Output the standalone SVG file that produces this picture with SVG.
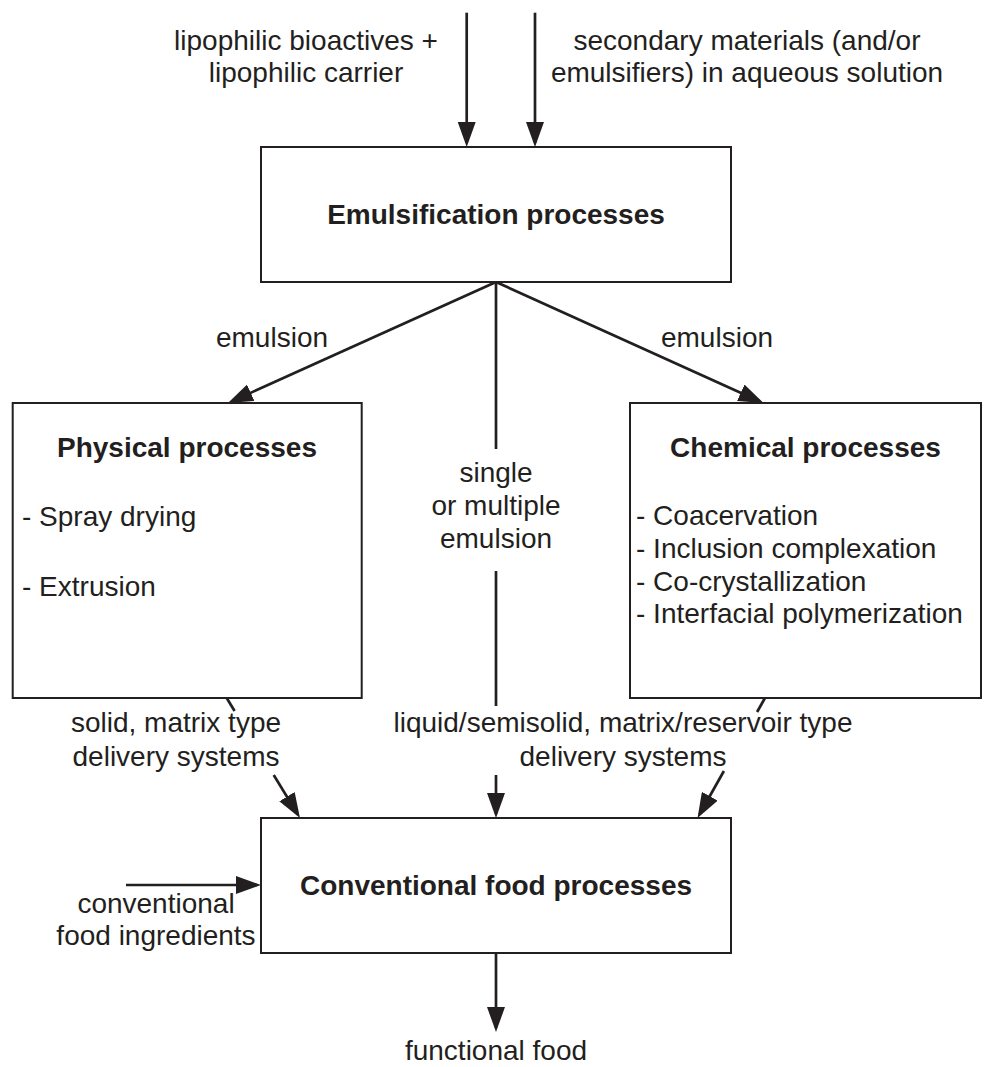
<svg xmlns="http://www.w3.org/2000/svg" width="984" height="1067" viewBox="0 0 984 1067">
<style>
text{font-family:"Liberation Sans",Arial,Helvetica,sans-serif;font-size:28px;fill:#231f20}
.t{font-weight:bold}
.c{text-anchor:middle}
.box{fill:#fff;stroke:#231f20;stroke-width:2}
.ln{fill:none;stroke:#231f20;stroke-width:2.7}
.ar{fill:none;stroke:#231f20;stroke-width:2.7;marker-end:url(#ah)}
</style>
<defs>
<marker id="ah" markerUnits="userSpaceOnUse" markerWidth="25" markerHeight="18" refX="21" refY="9" orient="auto" viewBox="0 0 25 18">
<path d="M0,0 L25,9 L0,18 z" fill="#231f20"/>
</marker>
</defs>
<rect width="984" height="1067" fill="#fff"/>
<g id="connectors">
<line class="ar" x1="466.7" y1="12.7" x2="466.7" y2="143"/>
<line class="ar" x1="535" y1="12.7" x2="535" y2="143"/>
<line class="ar" x1="496" y1="282" x2="231.6" y2="401.4"/>
<line class="ar" x1="496" y1="282" x2="759.9" y2="401.4"/>
<line class="ln" x1="496" y1="282" x2="496" y2="449"/>
<line class="ln" x1="496" y1="571" x2="496" y2="706"/>
<line class="ar" x1="496" y1="775" x2="496" y2="814"/>
<line class="ln" x1="226.7" y1="698" x2="234.6" y2="711"/>
<line class="ar" x1="273.7" y1="775" x2="297.9" y2="814.6"/>
<line class="ln" x1="765" y1="698" x2="757.1" y2="712"/>
<line class="ar" x1="723.9" y1="771" x2="699.5" y2="814.5"/>
<line class="ar" x1="126" y1="885" x2="257" y2="885"/>
<line class="ar" x1="496" y1="953" x2="496" y2="1028"/>
</g>
<g id="labels">
<text class="c" x="306" y="50">lipophilic bioactives +</text>
<text class="c" x="306" y="82">lipophilic carrier</text>
<text class="c" x="747" y="50">secondary materials (and/or</text>
<text class="c" x="747" y="82">emulsifiers) in aqueous solution</text>
<text class="c" x="272" y="347">emulsion</text>
<text class="c" x="717" y="347">emulsion</text>
<text class="c" x="496" y="482">single</text>
<text class="c" x="496" y="515">or multiple</text>
<text class="c" x="496" y="548">emulsion</text>
<text class="c" x="176" y="732">solid, matrix type</text>
<text class="c" x="176" y="766">delivery systems</text>
<text class="c" x="623" y="732">liquid/semisolid, matrix/reservoir type</text>
<text class="c" x="623" y="766">delivery systems</text>
<text class="c" x="156" y="913">conventional</text>
<text class="c" x="156" y="945">food ingredients</text>
<text class="c" x="496" y="1060">functional food</text>
</g>
<g id="emulsification">
<rect class="box" x="261" y="147" width="470" height="135"/>
<text class="t c" x="496" y="224">Emulsification processes</text>
</g>
<g id="physical">
<rect class="box" x="12.7" y="403" width="349" height="295"/>
<text class="t c" x="187" y="457">Physical processes</text>
<text x="22" y="526">- Spray drying</text>
<text x="22" y="596">- Extrusion</text>
</g>
<g id="chemical">
<rect class="box" x="630" y="403" width="351" height="295"/>
<text class="t c" x="805.5" y="457">Chemical processes</text>
<text x="636" y="525">- Coacervation</text>
<text x="636" y="558">- Inclusion complexation</text>
<text x="636" y="591">- Co-crystallization</text>
<text x="636" y="623">- Interfacial polymerization</text>
</g>
<g id="conventional">
<rect class="box" x="261" y="818" width="470" height="135"/>
<text class="t c" x="496" y="895">Conventional food processes</text>
</g>
</svg>
